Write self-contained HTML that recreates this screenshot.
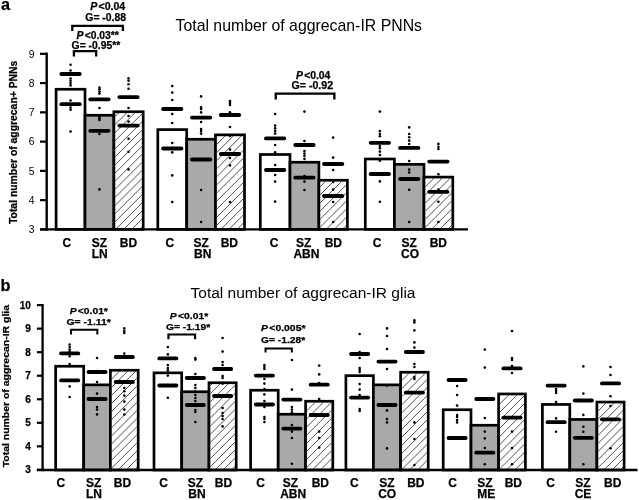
<!DOCTYPE html><html><head><meta charset="utf-8"><style>html,body{margin:0;padding:0;background:#fff;width:639px;height:500px;overflow:hidden}svg{display:block;filter:blur(0.4px)}text{font-family:"Liberation Sans",sans-serif}text[font-weight="bold"]{stroke:#000;stroke-width:0.25px}</style></head><body>
<svg width="639" height="500" viewBox="0 0 639 500">
<rect width="639" height="500" fill="#fff"/>
<rect x="56.10" y="89.25" width="28.90" height="140.15" fill="#fff" stroke="#000" stroke-width="2.7"/>
<rect x="85.00" y="115.25" width="28.90" height="114.15" fill="#a9a9a9" stroke="#000" stroke-width="2.7"/>
<rect x="113.90" y="111.75" width="29.30" height="117.65" fill="#fff" stroke="#000" stroke-width="2.7"/>
<rect x="157.80" y="129.60" width="28.90" height="99.80" fill="#fff" stroke="#000" stroke-width="2.7"/>
<rect x="186.70" y="139.25" width="28.80" height="90.15" fill="#a9a9a9" stroke="#000" stroke-width="2.7"/>
<rect x="215.50" y="134.85" width="29.00" height="94.55" fill="#fff" stroke="#000" stroke-width="2.7"/>
<rect x="260.30" y="154.50" width="29.70" height="74.90" fill="#fff" stroke="#000" stroke-width="2.7"/>
<rect x="290.00" y="162.25" width="28.90" height="67.15" fill="#a9a9a9" stroke="#000" stroke-width="2.7"/>
<rect x="318.90" y="180.25" width="28.50" height="49.15" fill="#fff" stroke="#000" stroke-width="2.7"/>
<rect x="365.30" y="159.00" width="29.10" height="70.40" fill="#fff" stroke="#000" stroke-width="2.7"/>
<rect x="394.40" y="164.35" width="29.60" height="65.05" fill="#a9a9a9" stroke="#000" stroke-width="2.7"/>
<rect x="424.00" y="177.10" width="28.80" height="52.30" fill="#fff" stroke="#000" stroke-width="2.7"/>
<clipPath id="hc229"><rect x="115.15" y="113.00" width="26.80" height="115.15"/><rect x="216.75" y="136.10" width="26.50" height="92.05"/><rect x="320.15" y="181.50" width="26.00" height="46.65"/><rect x="425.25" y="178.35" width="26.30" height="49.80"/></clipPath>
<path clip-path="url(#hc229)" d="M0 4.70L639 -634.30M0 12.80L639 -626.20M0 20.90L639 -618.10M0 29.00L639 -610.00M0 37.10L639 -601.90M0 45.20L639 -593.80M0 53.30L639 -585.70M0 61.40L639 -577.60M0 69.50L639 -569.50M0 77.60L639 -561.40M0 85.70L639 -553.30M0 93.80L639 -545.20M0 101.90L639 -537.10M0 110.00L639 -529.00M0 118.10L639 -520.90M0 126.20L639 -512.80M0 134.30L639 -504.70M0 142.40L639 -496.60M0 150.50L639 -488.50M0 158.60L639 -480.40M0 166.70L639 -472.30M0 174.80L639 -464.20M0 182.90L639 -456.10M0 191.00L639 -448.00M0 199.10L639 -439.90M0 207.20L639 -431.80M0 215.30L639 -423.70M0 223.40L639 -415.60M0 231.50L639 -407.50M0 239.60L639 -399.40M0 247.70L639 -391.30M0 255.80L639 -383.20M0 263.90L639 -375.10M0 272.00L639 -367.00M0 280.10L639 -358.90M0 288.20L639 -350.80M0 296.30L639 -342.70M0 304.40L639 -334.60M0 312.50L639 -326.50M0 320.60L639 -318.40M0 328.70L639 -310.30M0 336.80L639 -302.20M0 344.90L639 -294.10M0 353.00L639 -286.00M0 361.10L639 -277.90M0 369.20L639 -269.80M0 377.30L639 -261.70M0 385.40L639 -253.60M0 393.50L639 -245.50M0 401.60L639 -237.40M0 409.70L639 -229.30M0 417.80L639 -221.20M0 425.90L639 -213.10M0 434.00L639 -205.00M0 442.10L639 -196.90M0 450.20L639 -188.80M0 458.30L639 -180.70M0 466.40L639 -172.60M0 474.50L639 -164.50M0 482.60L639 -156.40M0 490.70L639 -148.30M0 498.80L639 -140.20M0 506.90L639 -132.10M0 515.00L639 -124.00M0 523.10L639 -115.90M0 531.20L639 -107.80M0 539.30L639 -99.70M0 547.40L639 -91.60M0 555.50L639 -83.50M0 563.60L639 -75.40M0 571.70L639 -67.30M0 579.80L639 -59.20M0 587.90L639 -51.10M0 596.00L639 -43.00M0 604.10L639 -34.90M0 612.20L639 -26.80M0 620.30L639 -18.70M0 628.40L639 -10.60M0 636.50L639 -2.50M0 644.60L639 5.60M0 652.70L639 13.70M0 660.80L639 21.80M0 668.90L639 29.90M0 677.00L639 38.00M0 685.10L639 46.10M0 693.20L639 54.20M0 701.30L639 62.30M0 709.40L639 70.40M0 717.50L639 78.50M0 725.60L639 86.60M0 733.70L639 94.70M0 741.80L639 102.80M0 749.90L639 110.90M0 758.00L639 119.00M0 766.10L639 127.10M0 774.20L639 135.20M0 782.30L639 143.30M0 790.40L639 151.40M0 798.50L639 159.50M0 806.60L639 167.60M0 814.70L639 175.70M0 822.80L639 183.80M0 830.90L639 191.90M0 839.00L639 200.00M0 847.10L639 208.10M0 855.20L639 216.20M0 863.30L639 224.30M0 871.40L639 232.40M0 879.50L639 240.50M0 887.60L639 248.60M0 895.70L639 256.70M0 903.80L639 264.80M0 911.90L639 272.90M0 920.00L639 281.00M0 928.10L639 289.10M0 936.20L639 297.20M0 944.30L639 305.30M0 952.40L639 313.40M0 960.50L639 321.50M0 968.60L639 329.60M0 976.70L639 337.70M0 984.80L639 345.80M0 992.90L639 353.90M0 1001.00L639 362.00M0 1009.10L639 370.10M0 1017.20L639 378.20M0 1025.30L639 386.30M0 1033.40L639 394.40M0 1041.50L639 402.50M0 1049.60L639 410.60M0 1057.70L639 418.70M0 1065.80L639 426.80M0 1073.90L639 434.90M0 1082.00L639 443.00M0 1090.10L639 451.10M0 1098.20L639 459.20M0 1106.30L639 467.30M0 1114.40L639 475.40M0 1122.50L639 483.50M0 1130.60L639 491.60M0 1138.70L639 499.70M0 1146.80L639 507.80M0 1154.90L639 515.90M0 1163.00L639 524.00M0 1171.10L639 532.10M0 1179.20L639 540.20M0 1187.30L639 548.30M0 1195.40L639 556.40" stroke="#333" stroke-width="0.85" fill="none"/>
<line x1="61.35" y1="74" x2="79.75" y2="74" stroke="#000" stroke-width="3.8" stroke-linecap="round"/>
<line x1="61.35" y1="104.2" x2="79.75" y2="104.2" stroke="#000" stroke-width="3.8" stroke-linecap="round"/>
<line x1="90.25" y1="99.3" x2="108.65" y2="99.3" stroke="#000" stroke-width="3.8" stroke-linecap="round"/>
<line x1="90.25" y1="130.8" x2="108.65" y2="130.8" stroke="#000" stroke-width="3.8" stroke-linecap="round"/>
<line x1="119.35" y1="97.1" x2="137.75" y2="97.1" stroke="#000" stroke-width="3.8" stroke-linecap="round"/>
<line x1="119.35" y1="125.6" x2="137.75" y2="125.6" stroke="#000" stroke-width="3.8" stroke-linecap="round"/>
<line x1="163.05" y1="109" x2="181.45" y2="109" stroke="#000" stroke-width="3.8" stroke-linecap="round"/>
<line x1="163.05" y1="148.5" x2="181.45" y2="148.5" stroke="#000" stroke-width="3.8" stroke-linecap="round"/>
<line x1="191.90" y1="117.6" x2="210.30" y2="117.6" stroke="#000" stroke-width="3.8" stroke-linecap="round"/>
<line x1="191.90" y1="159.5" x2="210.30" y2="159.5" stroke="#000" stroke-width="3.8" stroke-linecap="round"/>
<line x1="220.80" y1="115" x2="239.20" y2="115" stroke="#000" stroke-width="3.8" stroke-linecap="round"/>
<line x1="220.80" y1="154" x2="239.20" y2="154" stroke="#000" stroke-width="3.8" stroke-linecap="round"/>
<line x1="265.95" y1="138.4" x2="284.35" y2="138.4" stroke="#000" stroke-width="3.8" stroke-linecap="round"/>
<line x1="265.95" y1="170" x2="284.35" y2="170" stroke="#000" stroke-width="3.8" stroke-linecap="round"/>
<line x1="295.25" y1="145" x2="313.65" y2="145" stroke="#000" stroke-width="3.8" stroke-linecap="round"/>
<line x1="295.25" y1="177.6" x2="313.65" y2="177.6" stroke="#000" stroke-width="3.8" stroke-linecap="round"/>
<line x1="323.95" y1="164" x2="342.35" y2="164" stroke="#000" stroke-width="3.8" stroke-linecap="round"/>
<line x1="323.95" y1="196" x2="342.35" y2="196" stroke="#000" stroke-width="3.8" stroke-linecap="round"/>
<line x1="370.65" y1="142.8" x2="389.05" y2="142.8" stroke="#000" stroke-width="3.8" stroke-linecap="round"/>
<line x1="370.65" y1="174" x2="389.05" y2="174" stroke="#000" stroke-width="3.8" stroke-linecap="round"/>
<line x1="400.00" y1="147.9" x2="418.40" y2="147.9" stroke="#000" stroke-width="3.8" stroke-linecap="round"/>
<line x1="400.00" y1="179" x2="418.40" y2="179" stroke="#000" stroke-width="3.8" stroke-linecap="round"/>
<line x1="429.20" y1="161.6" x2="447.60" y2="161.6" stroke="#000" stroke-width="3.8" stroke-linecap="round"/>
<line x1="429.20" y1="191.8" x2="447.60" y2="191.8" stroke="#000" stroke-width="3.8" stroke-linecap="round"/>
<circle cx="70.55" cy="64.7" r="1.3" fill="#000"/>
<circle cx="70.55" cy="70.5" r="1.3" fill="#000"/>
<circle cx="70.55" cy="78.5" r="1.3" fill="#000"/>
<circle cx="70.55" cy="80.8" r="1.3" fill="#000"/>
<circle cx="70.55" cy="83.1" r="1.3" fill="#000"/>
<circle cx="70.55" cy="85.4" r="1.3" fill="#000"/>
<circle cx="70.55" cy="100.5" r="1.3" fill="#000"/>
<circle cx="70.55" cy="107.5" r="1.3" fill="#000"/>
<circle cx="70.55" cy="109.7" r="1.3" fill="#000"/>
<circle cx="70.55" cy="131.5" r="1.3" fill="#000"/>
<circle cx="99.45" cy="87.5" r="1.3" fill="#000"/>
<circle cx="99.45" cy="89.3" r="1.3" fill="#000"/>
<circle cx="99.45" cy="91.5" r="1.3" fill="#000"/>
<circle cx="99.45" cy="93.6" r="1.3" fill="#000"/>
<circle cx="99.45" cy="108" r="1.3" fill="#000"/>
<circle cx="99.45" cy="116.8" r="1.3" fill="#000"/>
<circle cx="99.45" cy="118.5" r="1.3" fill="#000"/>
<circle cx="99.45" cy="120" r="1.3" fill="#000"/>
<circle cx="99.45" cy="134" r="1.3" fill="#000"/>
<circle cx="99.45" cy="189.4" r="1.3" fill="#000"/>
<circle cx="128.55" cy="78.4" r="1.3" fill="#000"/>
<circle cx="128.55" cy="80.8" r="1.3" fill="#000"/>
<circle cx="128.55" cy="84.3" r="1.3" fill="#000"/>
<circle cx="128.55" cy="88.8" r="1.3" fill="#000"/>
<circle cx="128.55" cy="108" r="1.3" fill="#000"/>
<circle cx="128.55" cy="116" r="1.3" fill="#000"/>
<circle cx="128.55" cy="121.6" r="1.3" fill="#000"/>
<circle cx="128.55" cy="138.8" r="1.3" fill="#000"/>
<circle cx="128.55" cy="151.8" r="1.3" fill="#000"/>
<circle cx="128.55" cy="169.4" r="1.3" fill="#000"/>
<circle cx="172.25" cy="86" r="1.3" fill="#000"/>
<circle cx="172.25" cy="92.6" r="1.3" fill="#000"/>
<circle cx="172.25" cy="100" r="1.3" fill="#000"/>
<circle cx="172.25" cy="114" r="1.3" fill="#000"/>
<circle cx="172.25" cy="123" r="1.3" fill="#000"/>
<circle cx="172.25" cy="143" r="1.3" fill="#000"/>
<circle cx="172.25" cy="152.4" r="1.3" fill="#000"/>
<circle cx="172.25" cy="175.4" r="1.3" fill="#000"/>
<circle cx="172.25" cy="202" r="1.3" fill="#000"/>
<circle cx="201.10" cy="96.4" r="1.3" fill="#000"/>
<circle cx="201.10" cy="107.4" r="1.3" fill="#000"/>
<circle cx="201.10" cy="109" r="1.3" fill="#000"/>
<circle cx="201.10" cy="112.4" r="1.3" fill="#000"/>
<circle cx="201.10" cy="122" r="1.3" fill="#000"/>
<circle cx="201.10" cy="129" r="1.3" fill="#000"/>
<circle cx="201.10" cy="131" r="1.3" fill="#000"/>
<circle cx="201.10" cy="133.6" r="1.3" fill="#000"/>
<circle cx="201.10" cy="139" r="1.3" fill="#000"/>
<circle cx="201.10" cy="190" r="1.3" fill="#000"/>
<circle cx="201.10" cy="222" r="1.3" fill="#000"/>
<circle cx="230.00" cy="101" r="1.3" fill="#000"/>
<circle cx="230.00" cy="103" r="1.3" fill="#000"/>
<circle cx="230.00" cy="105" r="1.3" fill="#000"/>
<circle cx="230.00" cy="112.4" r="1.3" fill="#000"/>
<circle cx="230.00" cy="127" r="1.3" fill="#000"/>
<circle cx="230.00" cy="136" r="1.3" fill="#000"/>
<circle cx="230.00" cy="149.6" r="1.3" fill="#000"/>
<circle cx="230.00" cy="158" r="1.3" fill="#000"/>
<circle cx="230.00" cy="165.4" r="1.3" fill="#000"/>
<circle cx="230.00" cy="202" r="1.3" fill="#000"/>
<circle cx="275.15" cy="114" r="1.3" fill="#000"/>
<circle cx="275.15" cy="125.6" r="1.3" fill="#000"/>
<circle cx="275.15" cy="128.4" r="1.3" fill="#000"/>
<circle cx="275.15" cy="131" r="1.3" fill="#000"/>
<circle cx="275.15" cy="133.6" r="1.3" fill="#000"/>
<circle cx="275.15" cy="145" r="1.3" fill="#000"/>
<circle cx="275.15" cy="152.4" r="1.3" fill="#000"/>
<circle cx="275.15" cy="165" r="1.3" fill="#000"/>
<circle cx="275.15" cy="175" r="1.3" fill="#000"/>
<circle cx="275.15" cy="181.6" r="1.3" fill="#000"/>
<circle cx="275.15" cy="201.6" r="1.3" fill="#000"/>
<circle cx="304.45" cy="111.6" r="1.3" fill="#000"/>
<circle cx="304.45" cy="141" r="1.3" fill="#000"/>
<circle cx="304.45" cy="151" r="1.3" fill="#000"/>
<circle cx="304.45" cy="153.6" r="1.3" fill="#000"/>
<circle cx="304.45" cy="156" r="1.3" fill="#000"/>
<circle cx="304.45" cy="159" r="1.3" fill="#000"/>
<circle cx="304.45" cy="176" r="1.3" fill="#000"/>
<circle cx="304.45" cy="181.6" r="1.3" fill="#000"/>
<circle cx="304.45" cy="190" r="1.3" fill="#000"/>
<circle cx="333.15" cy="137.6" r="1.3" fill="#000"/>
<circle cx="333.15" cy="157.6" r="1.3" fill="#000"/>
<circle cx="333.15" cy="170" r="1.3" fill="#000"/>
<circle cx="333.15" cy="182" r="1.3" fill="#000"/>
<circle cx="333.15" cy="189.6" r="1.3" fill="#000"/>
<circle cx="333.15" cy="202" r="1.3" fill="#000"/>
<circle cx="333.15" cy="222" r="1.3" fill="#000"/>
<circle cx="379.85" cy="111.6" r="1.3" fill="#000"/>
<circle cx="379.85" cy="131.1" r="1.3" fill="#000"/>
<circle cx="379.85" cy="134" r="1.3" fill="#000"/>
<circle cx="379.85" cy="136.2" r="1.3" fill="#000"/>
<circle cx="379.85" cy="146" r="1.3" fill="#000"/>
<circle cx="379.85" cy="148.3" r="1.3" fill="#000"/>
<circle cx="379.85" cy="151.6" r="1.3" fill="#000"/>
<circle cx="379.85" cy="155" r="1.3" fill="#000"/>
<circle cx="379.85" cy="160.8" r="1.3" fill="#000"/>
<circle cx="379.85" cy="181.4" r="1.3" fill="#000"/>
<circle cx="379.85" cy="201.7" r="1.3" fill="#000"/>
<circle cx="409.20" cy="127.4" r="1.3" fill="#000"/>
<circle cx="409.20" cy="134" r="1.3" fill="#000"/>
<circle cx="409.20" cy="137.3" r="1.3" fill="#000"/>
<circle cx="409.20" cy="140.6" r="1.3" fill="#000"/>
<circle cx="409.20" cy="144" r="1.3" fill="#000"/>
<circle cx="409.20" cy="161" r="1.3" fill="#000"/>
<circle cx="409.20" cy="169.6" r="1.3" fill="#000"/>
<circle cx="409.20" cy="172.5" r="1.3" fill="#000"/>
<circle cx="409.20" cy="189.7" r="1.3" fill="#000"/>
<circle cx="409.20" cy="222" r="1.3" fill="#000"/>
<circle cx="438.40" cy="143.9" r="1.3" fill="#000"/>
<circle cx="438.40" cy="146.8" r="1.3" fill="#000"/>
<circle cx="438.40" cy="149" r="1.3" fill="#000"/>
<circle cx="438.40" cy="174.2" r="1.3" fill="#000"/>
<circle cx="438.40" cy="189.6" r="1.3" fill="#000"/>
<circle cx="438.40" cy="201.7" r="1.3" fill="#000"/>
<circle cx="438.40" cy="222" r="1.3" fill="#000"/>
<text x="66.9" y="246.8" font-size="12" font-weight="bold" text-anchor="middle">C</text>
<text x="99.5" y="246.8" font-size="12" font-weight="bold" text-anchor="middle">SZ</text>
<text x="99.7" y="257.8" font-size="12" font-weight="bold" text-anchor="middle">LN</text>
<text x="128.5" y="246.8" font-size="12" font-weight="bold" text-anchor="middle">BD</text>
<text x="169.85" y="246.8" font-size="12" font-weight="bold" text-anchor="middle">C</text>
<text x="201.1" y="246.8" font-size="12" font-weight="bold" text-anchor="middle">SZ</text>
<text x="202.7" y="257.8" font-size="12" font-weight="bold" text-anchor="middle">BN</text>
<text x="229.3" y="246.8" font-size="12" font-weight="bold" text-anchor="middle">BD</text>
<text x="274" y="246.8" font-size="12" font-weight="bold" text-anchor="middle">C</text>
<text x="303.7" y="246.8" font-size="12" font-weight="bold" text-anchor="middle">SZ</text>
<text x="306.4" y="257.8" font-size="12" font-weight="bold" text-anchor="middle">ABN</text>
<text x="333.3" y="246.8" font-size="12" font-weight="bold" text-anchor="middle">BD</text>
<text x="377" y="246.8" font-size="12" font-weight="bold" text-anchor="middle">C</text>
<text x="409.1" y="246.8" font-size="12" font-weight="bold" text-anchor="middle">SZ</text>
<text x="410.1" y="257.8" font-size="12" font-weight="bold" text-anchor="middle">CO</text>
<text x="438.3" y="246.8" font-size="12" font-weight="bold" text-anchor="middle">BD</text>
<rect x="55.65" y="366.25" width="28.05" height="103.75" fill="#fff" stroke="#000" stroke-width="2.7"/>
<rect x="83.70" y="384.85" width="26.70" height="85.15" fill="#a9a9a9" stroke="#000" stroke-width="2.7"/>
<rect x="110.40" y="370.25" width="27.80" height="99.75" fill="#fff" stroke="#000" stroke-width="2.7"/>
<rect x="154.00" y="372.85" width="27.70" height="97.15" fill="#fff" stroke="#000" stroke-width="2.7"/>
<rect x="181.70" y="391.75" width="27.30" height="78.25" fill="#a9a9a9" stroke="#000" stroke-width="2.7"/>
<rect x="209.00" y="382.75" width="27.20" height="87.25" fill="#fff" stroke="#000" stroke-width="2.7"/>
<rect x="250.60" y="390.25" width="27.60" height="79.75" fill="#fff" stroke="#000" stroke-width="2.7"/>
<rect x="278.20" y="414.25" width="27.40" height="55.75" fill="#a9a9a9" stroke="#000" stroke-width="2.7"/>
<rect x="305.60" y="401.25" width="27.20" height="68.75" fill="#fff" stroke="#000" stroke-width="2.7"/>
<rect x="345.90" y="375.65" width="27.50" height="94.35" fill="#fff" stroke="#000" stroke-width="2.7"/>
<rect x="373.40" y="384.85" width="27.20" height="85.15" fill="#a9a9a9" stroke="#000" stroke-width="2.7"/>
<rect x="400.60" y="372.25" width="27.60" height="97.75" fill="#fff" stroke="#000" stroke-width="2.7"/>
<rect x="443.20" y="409.75" width="27.80" height="60.25" fill="#fff" stroke="#000" stroke-width="2.7"/>
<rect x="471.00" y="425.25" width="27.60" height="44.75" fill="#a9a9a9" stroke="#000" stroke-width="2.7"/>
<rect x="498.60" y="393.95" width="26.80" height="76.05" fill="#fff" stroke="#000" stroke-width="2.7"/>
<rect x="542.40" y="404.45" width="27.40" height="65.55" fill="#fff" stroke="#000" stroke-width="2.7"/>
<rect x="569.80" y="419.45" width="27.10" height="50.55" fill="#a9a9a9" stroke="#000" stroke-width="2.7"/>
<rect x="596.90" y="402.05" width="27.20" height="67.95" fill="#fff" stroke="#000" stroke-width="2.7"/>
<clipPath id="hc470"><rect x="111.65" y="371.50" width="25.30" height="97.25"/><rect x="210.25" y="384.00" width="24.70" height="84.75"/><rect x="306.85" y="402.50" width="24.70" height="66.25"/><rect x="401.85" y="373.50" width="25.10" height="95.25"/><rect x="499.85" y="395.20" width="24.30" height="73.55"/><rect x="598.15" y="403.30" width="24.70" height="65.45"/></clipPath>
<path clip-path="url(#hc470)" d="M0 4.70L639 -634.30M0 12.80L639 -626.20M0 20.90L639 -618.10M0 29.00L639 -610.00M0 37.10L639 -601.90M0 45.20L639 -593.80M0 53.30L639 -585.70M0 61.40L639 -577.60M0 69.50L639 -569.50M0 77.60L639 -561.40M0 85.70L639 -553.30M0 93.80L639 -545.20M0 101.90L639 -537.10M0 110.00L639 -529.00M0 118.10L639 -520.90M0 126.20L639 -512.80M0 134.30L639 -504.70M0 142.40L639 -496.60M0 150.50L639 -488.50M0 158.60L639 -480.40M0 166.70L639 -472.30M0 174.80L639 -464.20M0 182.90L639 -456.10M0 191.00L639 -448.00M0 199.10L639 -439.90M0 207.20L639 -431.80M0 215.30L639 -423.70M0 223.40L639 -415.60M0 231.50L639 -407.50M0 239.60L639 -399.40M0 247.70L639 -391.30M0 255.80L639 -383.20M0 263.90L639 -375.10M0 272.00L639 -367.00M0 280.10L639 -358.90M0 288.20L639 -350.80M0 296.30L639 -342.70M0 304.40L639 -334.60M0 312.50L639 -326.50M0 320.60L639 -318.40M0 328.70L639 -310.30M0 336.80L639 -302.20M0 344.90L639 -294.10M0 353.00L639 -286.00M0 361.10L639 -277.90M0 369.20L639 -269.80M0 377.30L639 -261.70M0 385.40L639 -253.60M0 393.50L639 -245.50M0 401.60L639 -237.40M0 409.70L639 -229.30M0 417.80L639 -221.20M0 425.90L639 -213.10M0 434.00L639 -205.00M0 442.10L639 -196.90M0 450.20L639 -188.80M0 458.30L639 -180.70M0 466.40L639 -172.60M0 474.50L639 -164.50M0 482.60L639 -156.40M0 490.70L639 -148.30M0 498.80L639 -140.20M0 506.90L639 -132.10M0 515.00L639 -124.00M0 523.10L639 -115.90M0 531.20L639 -107.80M0 539.30L639 -99.70M0 547.40L639 -91.60M0 555.50L639 -83.50M0 563.60L639 -75.40M0 571.70L639 -67.30M0 579.80L639 -59.20M0 587.90L639 -51.10M0 596.00L639 -43.00M0 604.10L639 -34.90M0 612.20L639 -26.80M0 620.30L639 -18.70M0 628.40L639 -10.60M0 636.50L639 -2.50M0 644.60L639 5.60M0 652.70L639 13.70M0 660.80L639 21.80M0 668.90L639 29.90M0 677.00L639 38.00M0 685.10L639 46.10M0 693.20L639 54.20M0 701.30L639 62.30M0 709.40L639 70.40M0 717.50L639 78.50M0 725.60L639 86.60M0 733.70L639 94.70M0 741.80L639 102.80M0 749.90L639 110.90M0 758.00L639 119.00M0 766.10L639 127.10M0 774.20L639 135.20M0 782.30L639 143.30M0 790.40L639 151.40M0 798.50L639 159.50M0 806.60L639 167.60M0 814.70L639 175.70M0 822.80L639 183.80M0 830.90L639 191.90M0 839.00L639 200.00M0 847.10L639 208.10M0 855.20L639 216.20M0 863.30L639 224.30M0 871.40L639 232.40M0 879.50L639 240.50M0 887.60L639 248.60M0 895.70L639 256.70M0 903.80L639 264.80M0 911.90L639 272.90M0 920.00L639 281.00M0 928.10L639 289.10M0 936.20L639 297.20M0 944.30L639 305.30M0 952.40L639 313.40M0 960.50L639 321.50M0 968.60L639 329.60M0 976.70L639 337.70M0 984.80L639 345.80M0 992.90L639 353.90M0 1001.00L639 362.00M0 1009.10L639 370.10M0 1017.20L639 378.20M0 1025.30L639 386.30M0 1033.40L639 394.40M0 1041.50L639 402.50M0 1049.60L639 410.60M0 1057.70L639 418.70M0 1065.80L639 426.80M0 1073.90L639 434.90M0 1082.00L639 443.00M0 1090.10L639 451.10M0 1098.20L639 459.20M0 1106.30L639 467.30M0 1114.40L639 475.40M0 1122.50L639 483.50M0 1130.60L639 491.60M0 1138.70L639 499.70M0 1146.80L639 507.80M0 1154.90L639 515.90M0 1163.00L639 524.00M0 1171.10L639 532.10M0 1179.20L639 540.20M0 1187.30L639 548.30M0 1195.40L639 556.40" stroke="#333" stroke-width="0.85" fill="none"/>
<line x1="61.07" y1="353.4" x2="78.27" y2="353.4" stroke="#000" stroke-width="3.8" stroke-linecap="round"/>
<line x1="61.07" y1="380.4" x2="78.27" y2="380.4" stroke="#000" stroke-width="3.8" stroke-linecap="round"/>
<line x1="88.45" y1="372" x2="105.65" y2="372" stroke="#000" stroke-width="3.8" stroke-linecap="round"/>
<line x1="88.45" y1="399" x2="105.65" y2="399" stroke="#000" stroke-width="3.8" stroke-linecap="round"/>
<line x1="115.70" y1="357" x2="132.90" y2="357" stroke="#000" stroke-width="3.8" stroke-linecap="round"/>
<line x1="115.70" y1="382" x2="132.90" y2="382" stroke="#000" stroke-width="3.8" stroke-linecap="round"/>
<line x1="159.25" y1="358.4" x2="176.45" y2="358.4" stroke="#000" stroke-width="3.8" stroke-linecap="round"/>
<line x1="159.25" y1="385.5" x2="176.45" y2="385.5" stroke="#000" stroke-width="3.8" stroke-linecap="round"/>
<line x1="186.75" y1="378" x2="203.95" y2="378" stroke="#000" stroke-width="3.8" stroke-linecap="round"/>
<line x1="186.75" y1="405" x2="203.95" y2="405" stroke="#000" stroke-width="3.8" stroke-linecap="round"/>
<line x1="214.00" y1="369" x2="231.20" y2="369" stroke="#000" stroke-width="3.8" stroke-linecap="round"/>
<line x1="214.00" y1="396" x2="231.20" y2="396" stroke="#000" stroke-width="3.8" stroke-linecap="round"/>
<line x1="255.80" y1="375.6" x2="273.00" y2="375.6" stroke="#000" stroke-width="3.8" stroke-linecap="round"/>
<line x1="255.80" y1="404.5" x2="273.00" y2="404.5" stroke="#000" stroke-width="3.8" stroke-linecap="round"/>
<line x1="283.30" y1="399.6" x2="300.50" y2="399.6" stroke="#000" stroke-width="3.8" stroke-linecap="round"/>
<line x1="283.30" y1="428.6" x2="300.50" y2="428.6" stroke="#000" stroke-width="3.8" stroke-linecap="round"/>
<line x1="310.60" y1="384.7" x2="327.80" y2="384.7" stroke="#000" stroke-width="3.8" stroke-linecap="round"/>
<line x1="310.60" y1="415" x2="327.80" y2="415" stroke="#000" stroke-width="3.8" stroke-linecap="round"/>
<line x1="351.05" y1="354" x2="368.25" y2="354" stroke="#000" stroke-width="3.8" stroke-linecap="round"/>
<line x1="351.05" y1="397.6" x2="368.25" y2="397.6" stroke="#000" stroke-width="3.8" stroke-linecap="round"/>
<line x1="378.40" y1="361.6" x2="395.60" y2="361.6" stroke="#000" stroke-width="3.8" stroke-linecap="round"/>
<line x1="378.40" y1="405" x2="395.60" y2="405" stroke="#000" stroke-width="3.8" stroke-linecap="round"/>
<line x1="405.80" y1="352" x2="423.00" y2="352" stroke="#000" stroke-width="3.8" stroke-linecap="round"/>
<line x1="405.80" y1="392.6" x2="423.00" y2="392.6" stroke="#000" stroke-width="3.8" stroke-linecap="round"/>
<line x1="448.50" y1="380" x2="465.70" y2="380" stroke="#000" stroke-width="3.8" stroke-linecap="round"/>
<line x1="448.50" y1="438" x2="465.70" y2="438" stroke="#000" stroke-width="3.8" stroke-linecap="round"/>
<line x1="476.20" y1="399" x2="493.40" y2="399" stroke="#000" stroke-width="3.8" stroke-linecap="round"/>
<line x1="476.20" y1="452.7" x2="493.40" y2="452.7" stroke="#000" stroke-width="3.8" stroke-linecap="round"/>
<line x1="503.40" y1="368.4" x2="520.60" y2="368.4" stroke="#000" stroke-width="3.8" stroke-linecap="round"/>
<line x1="503.40" y1="417.6" x2="520.60" y2="417.6" stroke="#000" stroke-width="3.8" stroke-linecap="round"/>
<line x1="547.50" y1="385.6" x2="564.70" y2="385.6" stroke="#000" stroke-width="3.8" stroke-linecap="round"/>
<line x1="547.50" y1="422.2" x2="564.70" y2="422.2" stroke="#000" stroke-width="3.8" stroke-linecap="round"/>
<line x1="574.75" y1="400.5" x2="591.95" y2="400.5" stroke="#000" stroke-width="3.8" stroke-linecap="round"/>
<line x1="574.75" y1="437.8" x2="591.95" y2="437.8" stroke="#000" stroke-width="3.8" stroke-linecap="round"/>
<line x1="601.90" y1="383.4" x2="619.10" y2="383.4" stroke="#000" stroke-width="3.8" stroke-linecap="round"/>
<line x1="601.90" y1="419.3" x2="619.10" y2="419.3" stroke="#000" stroke-width="3.8" stroke-linecap="round"/>
<circle cx="69.67" cy="344.5" r="1.3" fill="#000"/>
<circle cx="69.67" cy="347" r="1.3" fill="#000"/>
<circle cx="69.67" cy="349.5" r="1.3" fill="#000"/>
<circle cx="69.67" cy="351.5" r="1.3" fill="#000"/>
<circle cx="69.67" cy="356.3" r="1.3" fill="#000"/>
<circle cx="69.67" cy="364" r="1.3" fill="#000"/>
<circle cx="69.67" cy="366" r="1.3" fill="#000"/>
<circle cx="69.67" cy="386.4" r="1.3" fill="#000"/>
<circle cx="69.67" cy="397" r="1.3" fill="#000"/>
<circle cx="97.05" cy="358" r="1.3" fill="#000"/>
<circle cx="97.05" cy="371" r="1.3" fill="#000"/>
<circle cx="97.05" cy="382" r="1.3" fill="#000"/>
<circle cx="97.05" cy="393.6" r="1.3" fill="#000"/>
<circle cx="97.05" cy="407" r="1.3" fill="#000"/>
<circle cx="97.05" cy="409.6" r="1.3" fill="#000"/>
<circle cx="97.05" cy="414.4" r="1.3" fill="#000"/>
<circle cx="124.30" cy="328.4" r="1.3" fill="#000"/>
<circle cx="124.30" cy="331" r="1.3" fill="#000"/>
<circle cx="124.30" cy="333" r="1.3" fill="#000"/>
<circle cx="124.30" cy="353.6" r="1.3" fill="#000"/>
<circle cx="124.30" cy="388" r="1.3" fill="#000"/>
<circle cx="124.30" cy="391.2" r="1.3" fill="#000"/>
<circle cx="124.30" cy="395.6" r="1.3" fill="#000"/>
<circle cx="124.30" cy="401.6" r="1.3" fill="#000"/>
<circle cx="124.30" cy="409.6" r="1.3" fill="#000"/>
<circle cx="124.30" cy="414.5" r="1.3" fill="#000"/>
<circle cx="167.85" cy="347" r="1.3" fill="#000"/>
<circle cx="167.85" cy="354.4" r="1.3" fill="#000"/>
<circle cx="167.85" cy="365" r="1.3" fill="#000"/>
<circle cx="167.85" cy="368" r="1.3" fill="#000"/>
<circle cx="167.85" cy="370.4" r="1.3" fill="#000"/>
<circle cx="167.85" cy="375.6" r="1.3" fill="#000"/>
<circle cx="167.85" cy="397.8" r="1.3" fill="#000"/>
<circle cx="195.35" cy="358" r="1.3" fill="#000"/>
<circle cx="195.35" cy="359.6" r="1.3" fill="#000"/>
<circle cx="195.35" cy="374" r="1.3" fill="#000"/>
<circle cx="195.35" cy="385" r="1.3" fill="#000"/>
<circle cx="195.35" cy="388" r="1.3" fill="#000"/>
<circle cx="195.35" cy="391.6" r="1.3" fill="#000"/>
<circle cx="195.35" cy="395" r="1.3" fill="#000"/>
<circle cx="195.35" cy="398" r="1.3" fill="#000"/>
<circle cx="195.35" cy="401" r="1.3" fill="#000"/>
<circle cx="195.35" cy="410" r="1.3" fill="#000"/>
<circle cx="195.35" cy="412" r="1.3" fill="#000"/>
<circle cx="195.35" cy="422" r="1.3" fill="#000"/>
<circle cx="222.60" cy="338" r="1.3" fill="#000"/>
<circle cx="222.60" cy="351.6" r="1.3" fill="#000"/>
<circle cx="222.60" cy="362" r="1.3" fill="#000"/>
<circle cx="222.60" cy="365" r="1.3" fill="#000"/>
<circle cx="222.60" cy="376" r="1.3" fill="#000"/>
<circle cx="222.60" cy="378" r="1.3" fill="#000"/>
<circle cx="222.60" cy="383.6" r="1.3" fill="#000"/>
<circle cx="222.60" cy="408" r="1.3" fill="#000"/>
<circle cx="222.60" cy="413" r="1.3" fill="#000"/>
<circle cx="222.60" cy="416" r="1.3" fill="#000"/>
<circle cx="222.60" cy="419" r="1.3" fill="#000"/>
<circle cx="222.60" cy="426.4" r="1.3" fill="#000"/>
<circle cx="264.40" cy="365" r="1.3" fill="#000"/>
<circle cx="264.40" cy="367" r="1.3" fill="#000"/>
<circle cx="264.40" cy="369" r="1.3" fill="#000"/>
<circle cx="264.40" cy="379" r="1.3" fill="#000"/>
<circle cx="264.40" cy="383.6" r="1.3" fill="#000"/>
<circle cx="264.40" cy="389" r="1.3" fill="#000"/>
<circle cx="264.40" cy="394.4" r="1.3" fill="#000"/>
<circle cx="264.40" cy="401" r="1.3" fill="#000"/>
<circle cx="264.40" cy="407" r="1.3" fill="#000"/>
<circle cx="264.40" cy="417" r="1.3" fill="#000"/>
<circle cx="264.40" cy="419" r="1.3" fill="#000"/>
<circle cx="264.40" cy="422" r="1.3" fill="#000"/>
<circle cx="291.90" cy="360" r="1.3" fill="#000"/>
<circle cx="291.90" cy="389.6" r="1.3" fill="#000"/>
<circle cx="291.90" cy="407" r="1.3" fill="#000"/>
<circle cx="291.90" cy="409.6" r="1.3" fill="#000"/>
<circle cx="291.90" cy="412.4" r="1.3" fill="#000"/>
<circle cx="291.90" cy="425" r="1.3" fill="#000"/>
<circle cx="291.90" cy="428" r="1.3" fill="#000"/>
<circle cx="291.90" cy="431.6" r="1.3" fill="#000"/>
<circle cx="291.90" cy="438" r="1.3" fill="#000"/>
<circle cx="291.90" cy="463.8" r="1.3" fill="#000"/>
<circle cx="319.20" cy="365.6" r="1.3" fill="#000"/>
<circle cx="319.20" cy="374.4" r="1.3" fill="#000"/>
<circle cx="319.20" cy="383" r="1.3" fill="#000"/>
<circle cx="319.20" cy="399" r="1.3" fill="#000"/>
<circle cx="319.20" cy="431.6" r="1.3" fill="#000"/>
<circle cx="319.20" cy="438" r="1.3" fill="#000"/>
<circle cx="319.20" cy="447.6" r="1.3" fill="#000"/>
<circle cx="359.65" cy="334" r="1.3" fill="#000"/>
<circle cx="359.65" cy="352" r="1.3" fill="#000"/>
<circle cx="359.65" cy="358" r="1.3" fill="#000"/>
<circle cx="359.65" cy="368" r="1.3" fill="#000"/>
<circle cx="359.65" cy="370" r="1.3" fill="#000"/>
<circle cx="359.65" cy="372" r="1.3" fill="#000"/>
<circle cx="359.65" cy="384" r="1.3" fill="#000"/>
<circle cx="359.65" cy="389.6" r="1.3" fill="#000"/>
<circle cx="359.65" cy="395" r="1.3" fill="#000"/>
<circle cx="359.65" cy="409" r="1.3" fill="#000"/>
<circle cx="359.65" cy="411" r="1.3" fill="#000"/>
<circle cx="387.00" cy="328.4" r="1.3" fill="#000"/>
<circle cx="387.00" cy="336" r="1.3" fill="#000"/>
<circle cx="387.00" cy="349" r="1.3" fill="#000"/>
<circle cx="387.00" cy="369" r="1.3" fill="#000"/>
<circle cx="387.00" cy="385.6" r="1.3" fill="#000"/>
<circle cx="387.00" cy="410.4" r="1.3" fill="#000"/>
<circle cx="387.00" cy="419" r="1.3" fill="#000"/>
<circle cx="387.00" cy="422.4" r="1.3" fill="#000"/>
<circle cx="387.00" cy="448.4" r="1.3" fill="#000"/>
<circle cx="414.40" cy="320.4" r="1.3" fill="#000"/>
<circle cx="414.40" cy="322.4" r="1.3" fill="#000"/>
<circle cx="414.40" cy="330.4" r="1.3" fill="#000"/>
<circle cx="414.40" cy="342.4" r="1.3" fill="#000"/>
<circle cx="414.40" cy="347.6" r="1.3" fill="#000"/>
<circle cx="414.40" cy="364" r="1.3" fill="#000"/>
<circle cx="414.40" cy="367" r="1.3" fill="#000"/>
<circle cx="414.40" cy="377" r="1.3" fill="#000"/>
<circle cx="414.40" cy="379" r="1.3" fill="#000"/>
<circle cx="414.40" cy="422.4" r="1.3" fill="#000"/>
<circle cx="414.40" cy="439" r="1.3" fill="#000"/>
<circle cx="414.40" cy="465" r="1.3" fill="#000"/>
<circle cx="457.10" cy="386" r="1.3" fill="#000"/>
<circle cx="457.10" cy="395" r="1.3" fill="#000"/>
<circle cx="457.10" cy="405.6" r="1.3" fill="#000"/>
<circle cx="457.10" cy="415" r="1.3" fill="#000"/>
<circle cx="457.10" cy="417" r="1.3" fill="#000"/>
<circle cx="457.10" cy="420" r="1.3" fill="#000"/>
<circle cx="457.10" cy="422.4" r="1.3" fill="#000"/>
<circle cx="484.80" cy="349.6" r="1.3" fill="#000"/>
<circle cx="484.80" cy="367.6" r="1.3" fill="#000"/>
<circle cx="484.80" cy="418" r="1.3" fill="#000"/>
<circle cx="484.80" cy="431.6" r="1.3" fill="#000"/>
<circle cx="484.80" cy="438.4" r="1.3" fill="#000"/>
<circle cx="484.80" cy="448" r="1.3" fill="#000"/>
<circle cx="484.80" cy="464.3" r="1.3" fill="#000"/>
<circle cx="512.00" cy="331" r="1.3" fill="#000"/>
<circle cx="512.00" cy="358" r="1.3" fill="#000"/>
<circle cx="512.00" cy="360" r="1.3" fill="#000"/>
<circle cx="512.00" cy="366" r="1.3" fill="#000"/>
<circle cx="512.00" cy="373" r="1.3" fill="#000"/>
<circle cx="512.00" cy="431.6" r="1.3" fill="#000"/>
<circle cx="512.00" cy="448" r="1.3" fill="#000"/>
<circle cx="512.00" cy="464.3" r="1.3" fill="#000"/>
<circle cx="556.10" cy="389" r="1.3" fill="#000"/>
<circle cx="556.10" cy="391" r="1.3" fill="#000"/>
<circle cx="556.10" cy="393" r="1.3" fill="#000"/>
<circle cx="556.10" cy="402" r="1.3" fill="#000"/>
<circle cx="556.10" cy="418.4" r="1.3" fill="#000"/>
<circle cx="556.10" cy="431.8" r="1.3" fill="#000"/>
<circle cx="583.35" cy="366.4" r="1.3" fill="#000"/>
<circle cx="583.35" cy="393.6" r="1.3" fill="#000"/>
<circle cx="583.35" cy="414.9" r="1.3" fill="#000"/>
<circle cx="583.35" cy="426.7" r="1.3" fill="#000"/>
<circle cx="583.35" cy="431.8" r="1.3" fill="#000"/>
<circle cx="583.35" cy="464.3" r="1.3" fill="#000"/>
<circle cx="610.50" cy="367" r="1.3" fill="#000"/>
<circle cx="610.50" cy="375" r="1.3" fill="#000"/>
<circle cx="610.50" cy="396.2" r="1.3" fill="#000"/>
<circle cx="610.50" cy="406" r="1.3" fill="#000"/>
<circle cx="610.50" cy="448.2" r="1.3" fill="#000"/>
<text x="60.9" y="487.0" font-size="12" font-weight="bold" text-anchor="middle">C</text>
<text x="93.7" y="487.0" font-size="12" font-weight="bold" text-anchor="middle">SZ</text>
<text x="93.9" y="497.6" font-size="12" font-weight="bold" text-anchor="middle">LN</text>
<text x="122.5" y="487.0" font-size="12" font-weight="bold" text-anchor="middle">BD</text>
<text x="163.5" y="487.0" font-size="12" font-weight="bold" text-anchor="middle">C</text>
<text x="195.3" y="487.0" font-size="12" font-weight="bold" text-anchor="middle">SZ</text>
<text x="197" y="497.6" font-size="12" font-weight="bold" text-anchor="middle">BN</text>
<text x="223.5" y="487.0" font-size="12" font-weight="bold" text-anchor="middle">BD</text>
<text x="260.7" y="487.0" font-size="12" font-weight="bold" text-anchor="middle">C</text>
<text x="290.4" y="487.0" font-size="12" font-weight="bold" text-anchor="middle">SZ</text>
<text x="293.2" y="497.6" font-size="12" font-weight="bold" text-anchor="middle">ABN</text>
<text x="320.3" y="487.0" font-size="12" font-weight="bold" text-anchor="middle">BD</text>
<text x="354.4" y="487.0" font-size="12" font-weight="bold" text-anchor="middle">C</text>
<text x="387" y="487.0" font-size="12" font-weight="bold" text-anchor="middle">SZ</text>
<text x="387.2" y="497.6" font-size="12" font-weight="bold" text-anchor="middle">CO</text>
<text x="415.8" y="487.0" font-size="12" font-weight="bold" text-anchor="middle">BD</text>
<text x="452.5" y="487.0" font-size="12" font-weight="bold" text-anchor="middle">C</text>
<text x="484.8" y="487.0" font-size="12" font-weight="bold" text-anchor="middle">SZ</text>
<text x="486.3" y="497.6" font-size="12" font-weight="bold" text-anchor="middle">ME</text>
<text x="513.3" y="487.0" font-size="12" font-weight="bold" text-anchor="middle">BD</text>
<text x="550.5" y="487.0" font-size="12" font-weight="bold" text-anchor="middle">C</text>
<text x="583" y="487.0" font-size="12" font-weight="bold" text-anchor="middle">SZ</text>
<text x="583" y="497.6" font-size="12" font-weight="bold" text-anchor="middle">CE</text>
<text x="612.7" y="487.0" font-size="12" font-weight="bold" text-anchor="middle">BD</text>
<line x1="46.7" y1="52.7" x2="46.7" y2="230.6" stroke="#000" stroke-width="2.4"/>
<line x1="40.3" y1="229.4" x2="468" y2="229.4" stroke="#000" stroke-width="2.4"/>
<line x1="40" y1="53.80" x2="47" y2="53.80" stroke="#000" stroke-width="2.2"/>
<text x="34.4" y="57.50" font-size="10.3" text-anchor="end">9</text>
<line x1="40" y1="83.07" x2="47" y2="83.07" stroke="#000" stroke-width="2.2"/>
<text x="34.4" y="86.77" font-size="10.3" text-anchor="end">8</text>
<line x1="40" y1="112.34" x2="47" y2="112.34" stroke="#000" stroke-width="2.2"/>
<text x="34.4" y="116.04" font-size="10.3" text-anchor="end">7</text>
<line x1="40" y1="141.61" x2="47" y2="141.61" stroke="#000" stroke-width="2.2"/>
<text x="34.4" y="145.31" font-size="10.3" text-anchor="end">6</text>
<line x1="40" y1="170.88" x2="47" y2="170.88" stroke="#000" stroke-width="2.2"/>
<text x="34.4" y="174.58" font-size="10.3" text-anchor="end">5</text>
<line x1="40" y1="200.15" x2="47" y2="200.15" stroke="#000" stroke-width="2.2"/>
<text x="34.4" y="203.85" font-size="10.3" text-anchor="end">4</text>
<line x1="40" y1="229.42" x2="47" y2="229.42" stroke="#000" stroke-width="2.2"/>
<text x="34.4" y="233.12" font-size="10.3" text-anchor="end">3</text>
<line x1="42.6" y1="304" x2="42.6" y2="471.2" stroke="#000" stroke-width="2.3"/>
<line x1="36.9" y1="470" x2="637.5" y2="470" stroke="#000" stroke-width="2.5"/>
<line x1="36.9" y1="305.10" x2="43" y2="305.10" stroke="#000" stroke-width="2.2"/>
<text x="30.8" y="308.70" font-size="10" font-weight="bold" text-anchor="end">10</text>
<line x1="36.9" y1="328.64" x2="43" y2="328.64" stroke="#000" stroke-width="2.2"/>
<text x="30.8" y="332.24" font-size="10" font-weight="bold" text-anchor="end">9</text>
<line x1="36.9" y1="352.18" x2="43" y2="352.18" stroke="#000" stroke-width="2.2"/>
<text x="30.8" y="355.78" font-size="10" font-weight="bold" text-anchor="end">8</text>
<line x1="36.9" y1="375.72" x2="43" y2="375.72" stroke="#000" stroke-width="2.2"/>
<text x="30.8" y="379.32" font-size="10" font-weight="bold" text-anchor="end">7</text>
<line x1="36.9" y1="399.26" x2="43" y2="399.26" stroke="#000" stroke-width="2.2"/>
<text x="30.8" y="402.86" font-size="10" font-weight="bold" text-anchor="end">6</text>
<line x1="36.9" y1="422.80" x2="43" y2="422.80" stroke="#000" stroke-width="2.2"/>
<text x="30.8" y="426.40" font-size="10" font-weight="bold" text-anchor="end">5</text>
<line x1="36.9" y1="446.34" x2="43" y2="446.34" stroke="#000" stroke-width="2.2"/>
<text x="30.8" y="449.94" font-size="10" font-weight="bold" text-anchor="end">4</text>
<line x1="36.9" y1="469.88" x2="43" y2="469.88" stroke="#000" stroke-width="2.2"/>
<text x="30.8" y="473.48" font-size="10" font-weight="bold" text-anchor="end">3</text>
<text transform="translate(16.5,224) rotate(-90)" font-size="10.4" font-weight="bold" textLength="163.4" lengthAdjust="spacingAndGlyphs">Total number of aggrecan+ PNNs</text>
<text transform="translate(8.8,467.3) rotate(-90)" font-size="9.8" font-weight="bold" textLength="162.3" lengthAdjust="spacingAndGlyphs">Total number of aggrecan-IR glia</text>
<text x="175.5" y="30.5" font-size="15.7" textLength="246.5" lengthAdjust="spacingAndGlyphs">Total number of aggrecan-IR PNNs</text>
<text x="190.5" y="298" font-size="15.4" textLength="225" lengthAdjust="spacingAndGlyphs">Total number of aggrecan-IR glia</text>
<text x="0.9" y="10.2" font-size="16.3" font-weight="bold">a</text>
<text x="0.4" y="291.3" font-size="16.3" font-weight="bold">b</text>
<text x="90.2" y="10.0" font-size="10.3" font-weight="bold" textLength="35.0" lengthAdjust="spacingAndGlyphs"><tspan font-style="italic">P</tspan><tspan dx="1.24">&lt;0.04</tspan></text>
<text x="85.3" y="20.9" font-size="10.3" font-weight="bold" textLength="40.8" lengthAdjust="spacingAndGlyphs">G= -0.88</text>
<path d="M72.3 31 V25.9 H122.9 V31" fill="none" stroke="#000" stroke-width="2.3" stroke-linejoin="miter" stroke-linecap="butt"/>
<text x="76.6" y="38.9" font-size="10.3" font-weight="bold" textLength="42.3" lengthAdjust="spacingAndGlyphs"><tspan font-style="italic">P</tspan><tspan dx="1.24">&lt;0.03**</tspan></text>
<text x="71.6" y="49.3" font-size="10.3" font-weight="bold" textLength="48.7" lengthAdjust="spacingAndGlyphs">G= -0.95**</text>
<path d="M73.9 56.6 V51.2 H96.2 V56.6" fill="none" stroke="#000" stroke-width="2.3" stroke-linejoin="miter" stroke-linecap="butt"/>
<text x="296.0" y="78.6" font-size="10.3" font-weight="bold" textLength="34.4" lengthAdjust="spacingAndGlyphs"><tspan font-style="italic">P</tspan><tspan dx="1.24">&lt;0.04</tspan></text>
<text x="291.5" y="89.4" font-size="10.3" font-weight="bold" textLength="41.6" lengthAdjust="spacingAndGlyphs">G= -0.92</text>
<path d="M275.75 99.5 V93.7 H334.35 V99.5" fill="none" stroke="#000" stroke-width="2.3" stroke-linejoin="miter" stroke-linecap="butt"/>
<text x="69.7" y="313.8" font-size="9.5" font-weight="bold" textLength="38.2" lengthAdjust="spacingAndGlyphs"><tspan font-style="italic">P</tspan><tspan dx="1.14">&lt;0.01*</tspan></text>
<text x="66.5" y="324.7" font-size="9.5" font-weight="bold" textLength="44.4" lengthAdjust="spacingAndGlyphs">G= -1.11*</text>
<path d="M71.05 334.5 V329.8 H97.35 V334.5" fill="none" stroke="#000" stroke-width="2.0" stroke-linejoin="miter" stroke-linecap="butt"/>
<text x="169.8" y="318.7" font-size="9.5" font-weight="bold" textLength="38.4" lengthAdjust="spacingAndGlyphs"><tspan font-style="italic">P</tspan><tspan dx="1.14">&lt;0.01*</tspan></text>
<text x="166.0" y="329.5" font-size="9.5" font-weight="bold" textLength="44.2" lengthAdjust="spacingAndGlyphs">G= -1.19*</text>
<path d="M168.45 339.3 V334.5 H195.1 V339.3" fill="none" stroke="#000" stroke-width="2.2" stroke-linejoin="miter" stroke-linecap="butt"/>
<text x="261.1" y="331" font-size="9.5" font-weight="bold" textLength="44.4" lengthAdjust="spacingAndGlyphs"><tspan font-style="italic">P</tspan><tspan dx="1.14">&lt;0.005*</tspan></text>
<text x="261.0" y="342.9" font-size="9.5" font-weight="bold" textLength="44.2" lengthAdjust="spacingAndGlyphs">G= -1.28*</text>
<path d="M265.55 352.6 V348.6 H291.85 V352.6" fill="none" stroke="#000" stroke-width="2.0" stroke-linejoin="miter" stroke-linecap="butt"/>
</svg></body></html>
